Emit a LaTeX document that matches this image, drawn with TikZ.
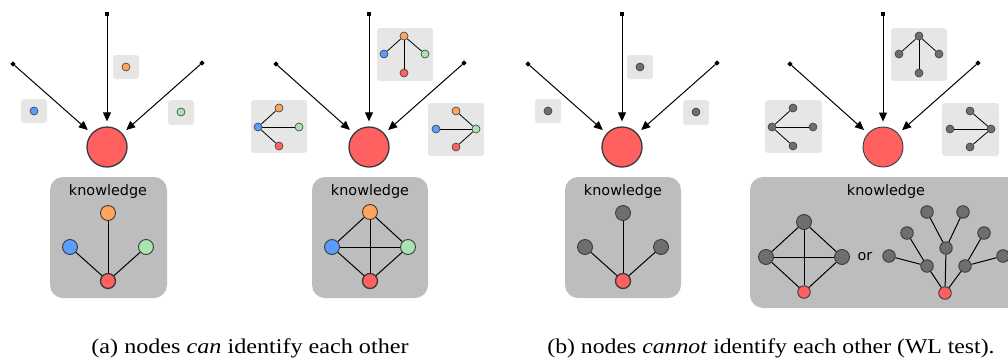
\documentclass[tikz,border=0pt]{standalone}
\usepackage{fontspec}
\setmainfont{Liberation Serif}
\newfontfamily\dvs{DejaVu Sans}
\usetikzlibrary{arrows.meta,shapes.geometric}
\definecolor{nred}{HTML}{FF6060}
\definecolor{norange}{HTML}{FFA45C}
\definecolor{nblue}{HTML}{5B9CFF}
\definecolor{ngreen}{HTML}{A8E4B0}
\definecolor{ngray}{HTML}{6E6E6E}
\definecolor{cKbox}{HTML}{BDBDBD}
\definecolor{cSbox}{HTML}{E6E6E6}
\definecolor{edgec}{HTML}{3A3A3A}
\tikzset{
 bigc/.style={circle, fill=nred, draw=edgec, line width=1.3pt, minimum size=40pt, inner sep=0},
 kn/.style={circle, draw=edgec, line width=0.9pt, minimum size=15pt, inner sep=0},
 tn/.style={circle, draw=edgec, line width=0.9pt, minimum size=12.5pt, inner sep=0},
 sn/.style={circle, draw=edgec, line width=0.6pt, minimum size=8pt, inner sep=0},
 kboxs/.style={fill=cKbox, rounded corners=13pt},
 sboxs/.style={fill=cSbox, rounded corners=3pt},
 arr/.style={-{Triangle[length=9pt,width=8pt]}, line width=1pt, shorten >=5pt},
 srcsq/.style={rectangle, fill=black, minimum size=4pt, inner sep=0},
 srcdm/.style={diamond, fill=black, minimum size=5.5pt, inner sep=0},
 ktext/.style={font=\dvs\fontsize{14.4}{16}\selectfont, inner sep=0},
 kedge/.style={line width=1pt, black},
 sedge/.style={line width=0.8pt, black},
 captext/.style={font=\fontsize{21}{24}\selectfont, anchor=base, inner sep=0},
}
\begin{document}
\begin{tikzpicture}[x=1pt,y=-1pt]
\useasboundingbox (0,0) rectangle (1008,362);
\clip (0,0) rectangle (1008,362);
% ---------- Panel 1 ----------
\path[sboxs] (113,55) rectangle (139,79);
\node[sn, fill=norange] (a1o) at (126,67) {};
\path[sboxs] (21,99) rectangle (47,123);
\node[sn, fill=nblue] (a1b) at (34,111) {};
\path[sboxs] (168,100) rectangle (194,125);
\node[sn, fill=ngreen] (a1g) at (181,112) {};
\node[srcsq] (p1t) at (107,14) {};
\node[srcdm] (p1l) at (13,64) {};
\node[srcdm] (p1r) at (202,63) {};
\node[bigc] (p1c) at (107,147) {};
\draw[arr] (p1t) -- (p1c);
\draw[arr] (p1l) -- (p1c);
\draw[arr] (p1r) -- (p1c);
\path[kboxs] (50,177) rectangle (167,298);
\node[ktext] (k1t) at (108,192) {knowledge};
\node[kn, fill=norange] (k1o) at (108,213) {};
\node[kn, fill=nblue] (k1b) at (70,247) {};
\node[kn, fill=ngreen] (k1g) at (146,247) {};
\node[kn, fill=nred, line width=1.3pt] (k1r) at (108,281) {};
\draw[kedge] (k1r) -- (k1o);
\draw[kedge] (k1r) -- (k1b);
\draw[kedge] (k1r) -- (k1g);
% ---------- Panel 2 ----------
\path[sboxs] (377,28) rectangle (433,81);
\node[sn, fill=norange] (t2o) at (404,36) {};
\node[sn, fill=nblue] (t2b) at (384,54) {};
\node[sn, fill=ngreen] (t2g) at (425,54) {};
\node[sn, fill=nred] (t2r) at (404,73) {};
\draw[sedge] (t2o) -- (t2b); \draw[sedge] (t2o) -- (t2g); \draw[sedge] (t2o) -- (t2r);
\path[sboxs] (251,100) rectangle (307,153);
\node[sn, fill=nblue] (l2b) at (258,127) {};
\node[sn, fill=norange] (l2o) at (279,108) {};
\node[sn, fill=ngreen] (l2g) at (299,127) {};
\node[sn, fill=nred] (l2r) at (279,146) {};
\draw[sedge] (l2b) -- (l2o); \draw[sedge] (l2b) -- (l2g); \draw[sedge] (l2b) -- (l2r);
\path[sboxs] (428,103) rectangle (484,156);
\node[sn, fill=nblue] (r2b) at (436,129) {};
\node[sn, fill=norange] (r2o) at (456,111) {};
\node[sn, fill=ngreen] (r2g) at (476,129) {};
\node[sn, fill=nred] (r2r) at (456,147) {};
\draw[sedge] (r2g) -- (r2o); \draw[sedge] (r2g) -- (r2b); \draw[sedge] (r2g) -- (r2r);
\node[srcsq] (p2t) at (369,14) {};
\node[srcdm] (p2l) at (276,64) {};
\node[srcdm] (p2r) at (464,63) {};
\node[bigc] (p2c) at (369,147) {};
\draw[arr] (p2t) -- (p2c);
\draw[arr] (p2l) -- (p2c);
\draw[arr] (p2r) -- (p2c);
\path[kboxs] (312,177) rectangle (428,298);
\node[ktext] (k2t) at (370,192) {knowledge};
\node[kn, fill=norange] (k2o) at (370,212) {};
\node[kn, fill=nblue] (k2b) at (332,247) {};
\node[kn, fill=ngreen] (k2g) at (408,247) {};
\node[kn, fill=nred, line width=1.3pt] (k2r) at (370,281) {};
\draw[kedge] (k2o) -- (k2b); \draw[kedge] (k2o) -- (k2g); \draw[kedge] (k2o) -- (k2r);
\draw[kedge] (k2b) -- (k2g); \draw[kedge] (k2b) -- (k2r); \draw[kedge] (k2g) -- (k2r);
% ---------- Panel 3 ----------
\path[sboxs] (627,55) rectangle (653,79);
\node[sn, fill=ngray] (a3t) at (640,67) {};
\path[sboxs] (535,99) rectangle (561,123);
\node[sn, fill=ngray] (a3l) at (548,111) {};
\path[sboxs] (683,100) rectangle (709,125);
\node[sn, fill=ngray] (a3r) at (696,112) {};
\node[srcsq] (p3t) at (622,14) {};
\node[srcdm] (p3l) at (528,64) {};
\node[srcdm] (p3r) at (717,63) {};
\node[bigc] (p3c) at (622,147) {};
\draw[arr] (p3t) -- (p3c);
\draw[arr] (p3l) -- (p3c);
\draw[arr] (p3r) -- (p3c);
\path[kboxs] (565,177) rectangle (681,298);
\node[ktext] (k3t) at (623,192) {knowledge};
\node[kn, fill=ngray] (k3o) at (623,213) {};
\node[kn, fill=ngray] (k3b) at (585,247) {};
\node[kn, fill=ngray] (k3g) at (661,247) {};
\node[kn, fill=nred, line width=1.3pt] (k3r) at (623,281) {};
\draw[kedge] (k3r) -- (k3o);
\draw[kedge] (k3r) -- (k3b);
\draw[kedge] (k3r) -- (k3g);
% ---------- Panel 4 ----------
\path[sboxs] (891,28) rectangle (947,81);
\node[sn, fill=ngray] (t4a) at (919,36) {};
\node[sn, fill=ngray] (t4b) at (899,54) {};
\node[sn, fill=ngray] (t4c) at (939,54) {};
\node[sn, fill=ngray] (t4d) at (919,73) {};
\draw[sedge] (t4a) -- (t4b); \draw[sedge] (t4a) -- (t4c); \draw[sedge] (t4a) -- (t4d);
\path[sboxs] (765,100) rectangle (822,153);
\node[sn, fill=ngray] (l4a) at (772,127) {};
\node[sn, fill=ngray] (l4b) at (793,108) {};
\node[sn, fill=ngray] (l4c) at (813,127) {};
\node[sn, fill=ngray] (l4d) at (793,146) {};
\draw[sedge] (l4a) -- (l4b); \draw[sedge] (l4a) -- (l4c); \draw[sedge] (l4a) -- (l4d);
\path[sboxs] (942,103) rectangle (999,156);
\node[sn, fill=ngray] (r4a) at (950,129) {};
\node[sn, fill=ngray] (r4b) at (970,111) {};
\node[sn, fill=ngray] (r4c) at (991,129) {};
\node[sn, fill=ngray] (r4d) at (970,147) {};
\draw[sedge] (r4c) -- (r4a); \draw[sedge] (r4c) -- (r4b); \draw[sedge] (r4c) -- (r4d);
\node[srcsq] (p4t) at (883,14) {};
\node[srcdm] (p4l) at (790,64) {};
\node[srcdm] (p4r) at (978,63) {};
\node[bigc, line width=0.9pt] (p4c) at (883,147) {};
\draw[arr] (p4t) -- (p4c);
\draw[arr] (p4l) -- (p4c);
\draw[arr] (p4r) -- (p4c);
\path[kboxs] (750,177) rectangle (1040,308);
\node[ktext] (k4t) at (886,192) {knowledge};
\node[kn, fill=ngray] (q4t) at (804,222) {};
\node[kn, fill=ngray] (q4l) at (766,257) {};
\node[kn, fill=ngray] (q4g) at (842,257) {};
\node[tn, fill=nred] (q4r) at (804,292) {};
\draw[kedge] (q4t) -- (q4l); \draw[kedge] (q4t) -- (q4g); \draw[kedge] (q4t) -- (q4r);
\draw[kedge] (q4l) -- (q4g); \draw[kedge] (q4l) -- (q4r); \draw[kedge] (q4g) -- (q4r);
\node[ktext] (or4) at (865,257) {or};
\node[tn, fill=nred] (w0) at (945,293) {};
\node[tn, fill=ngray] (wm) at (946,248) {};
\node[tn, fill=ngray] (wm1) at (927,212) {};
\node[tn, fill=ngray] (wm2) at (963,212) {};
\node[tn, fill=ngray] (wl) at (927,266) {};
\node[tn, fill=ngray] (wl1) at (907,233) {};
\node[tn, fill=ngray] (wl2) at (889,256) {};
\node[tn, fill=ngray] (wr) at (965,266) {};
\node[tn, fill=ngray] (wr1) at (984,233) {};
\node[tn, fill=ngray] (wr2) at (1003,256) {};
\draw[kedge] (w0) -- (wm); \draw[kedge] (w0) -- (wl); \draw[kedge] (w0) -- (wr);
\draw[kedge] (wm) -- (wm1); \draw[kedge] (wm) -- (wm2);
\draw[kedge] (wl) -- (wl1); \draw[kedge] (wl) -- (wl2);
\draw[kedge] (wr) -- (wr1); \draw[kedge] (wr) -- (wr2);
% ---------- Captions ----------
\node[captext] (capa) at (250,353) {\scalebox{1.15}[1]{(a) nodes \textit{can} identify each other}};
\node[captext] (capb) at (771,353) {\scalebox{1.13}[1]{(b) nodes \textit{cannot} identify each other (WL test).}};
\end{tikzpicture}
\end{document}
